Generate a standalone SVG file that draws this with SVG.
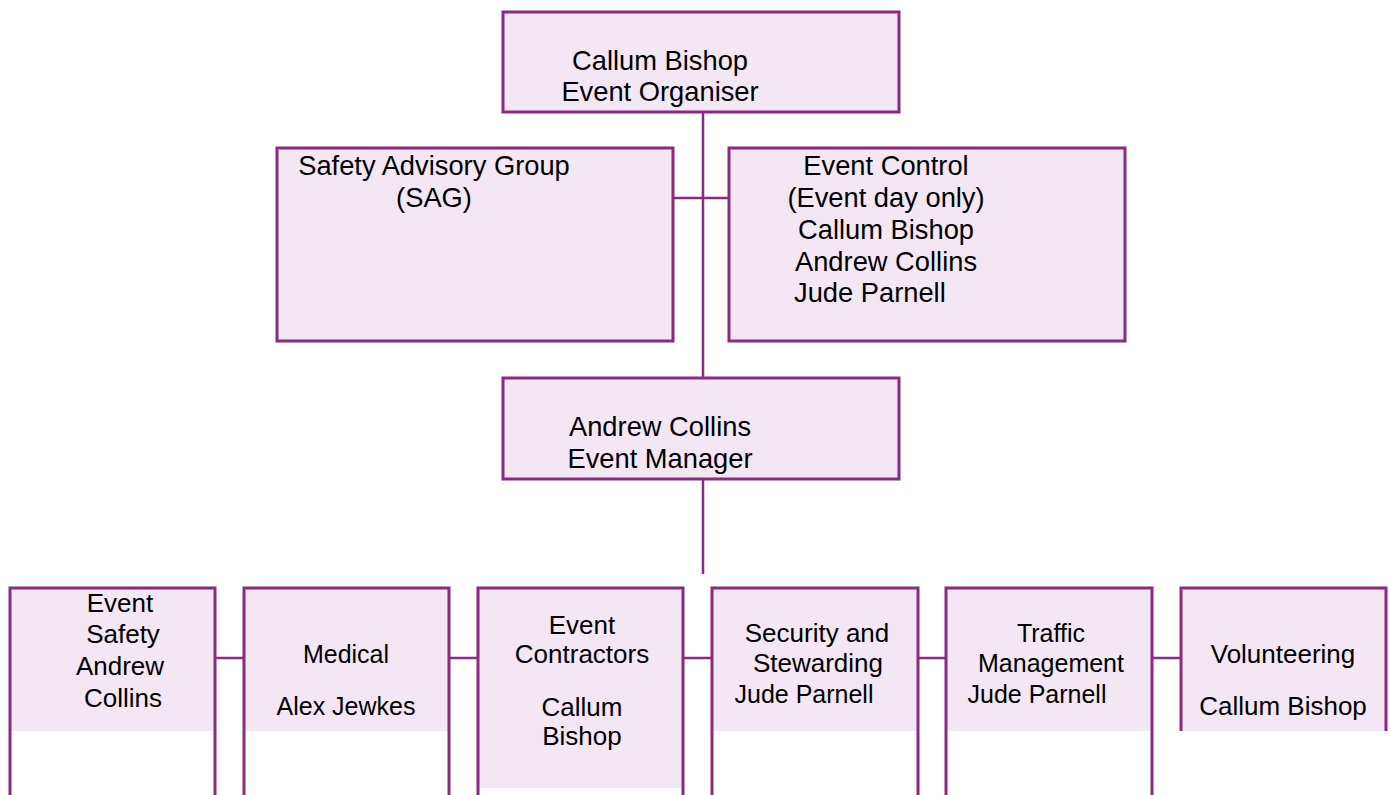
<svg xmlns="http://www.w3.org/2000/svg" width="1390" height="795" viewBox="0 0 1390 795">
<style>
.box{fill:#F2E7F2;stroke:#8B2A7E;stroke-width:3}
.fill{fill:#F2E7F2}
.edge{fill:none;stroke:#8B2A7E;stroke-width:3}
.conn{fill:none;stroke:#8B2A7E;stroke-width:2.5}
text{font-family:"Liberation Sans",Arial,sans-serif;fill:#000}
.t27{font-size:27.3px}
.t26{font-size:26px}
.t25{font-size:25px}
.m{text-anchor:middle}
</style>
<rect width="1390" height="795" fill="#fff"/>
<g id="connectors">
<line class="conn" x1="703" y1="113" x2="703" y2="378"/>
<line class="conn" x1="673" y1="198" x2="729" y2="198"/>
<line class="conn" x1="703" y1="479" x2="703" y2="574"/>
<line class="conn" x1="215" y1="658" x2="244" y2="658"/>
<line class="conn" x1="449" y1="658" x2="478" y2="658"/>
<line class="conn" x1="683" y1="658" x2="712" y2="658"/>
<line class="conn" x1="918" y1="658" x2="946" y2="658"/>
<line class="conn" x1="1152" y1="658" x2="1181" y2="658"/>
</g>
<g id="organiser">
<rect class="box" x="503" y="12" width="396" height="100"/>
<text class="t27 m" x="660" y="70">Callum Bishop</text>
<text class="t27 m" x="660" y="101">Event Organiser</text>
</g>
<g id="sag">
<rect class="box" x="277" y="148" width="396" height="193"/>
<text class="t27 m" x="434" y="175">Safety Advisory Group</text>
<text class="t27 m" x="434" y="207">(SAG)</text>
</g>
<g id="event-control">
<rect class="box" x="729" y="148" width="396" height="193"/>
<text class="t27 m" x="886" y="175">Event Control</text>
<text class="t27 m" x="886" y="207">(Event day only)</text>
<text class="t27 m" x="886" y="239">Callum Bishop</text>
<text class="t27 m" x="886" y="271">Andrew Collins</text>
<text class="t27" x="794" y="302">Jude Parnell</text>
</g>
<g id="manager">
<rect class="box" x="503" y="378" width="396" height="101"/>
<text class="t27 m" x="660" y="436">Andrew Collins</text>
<text class="t27 m" x="660" y="468">Event Manager</text>
</g>
<g id="event-safety">
<rect class="fill" x="10" y="588" width="205" height="143"/>
<path class="edge" d="M10 797V588H215V797"/>
<text class="t26 m" x="120" y="612">Event</text>
<text class="t26 m" x="123" y="643">Safety</text>
<text class="t26 m" x="120" y="675">Andrew</text>
<text class="t26 m" x="123" y="707">Collins</text>
</g>
<g id="medical">
<rect class="fill" x="244" y="588" width="205" height="143"/>
<path class="edge" d="M244 797V588H449V797"/>
<text class="t25 m" x="346" y="663">Medical</text>
<text class="t25 m" x="346" y="715">Alex Jewkes</text>
</g>
<g id="contractors">
<rect class="fill" x="478" y="588" width="205" height="200"/>
<path class="edge" d="M478 797V588H683V797"/>
<text class="t26 m" x="582" y="634">Event</text>
<text class="t26 m" x="582" y="663">Contractors</text>
<text class="t26 m" x="582" y="716">Callum</text>
<text class="t26 m" x="582" y="745">Bishop</text>
</g>
<g id="security">
<rect class="fill" x="712" y="588" width="206" height="143"/>
<path class="edge" d="M712 797V588H918V797"/>
<text class="t26 m" x="817" y="642">Security and</text>
<text class="t26 m" x="818" y="672">Stewarding</text>
<text class="t25 m" x="804" y="703">Jude Parnell</text>
</g>
<g id="traffic">
<rect class="fill" x="946" y="588" width="206" height="143"/>
<path class="edge" d="M946 797V588H1152V797"/>
<text class="t25 m" x="1051" y="642">Traffic</text>
<text class="t25 m" x="1051" y="672">Management</text>
<text class="t25 m" x="1037" y="703">Jude Parnell</text>
</g>
<g id="volunteering">
<rect class="fill" x="1181" y="588" width="205" height="143"/>
<path class="edge" d="M1181 731V588H1386V731"/>
<text class="t26 m" x="1283" y="663">Volunteering</text>
<text class="t26 m" x="1283" y="715">Callum Bishop</text>
</g>
</svg>
